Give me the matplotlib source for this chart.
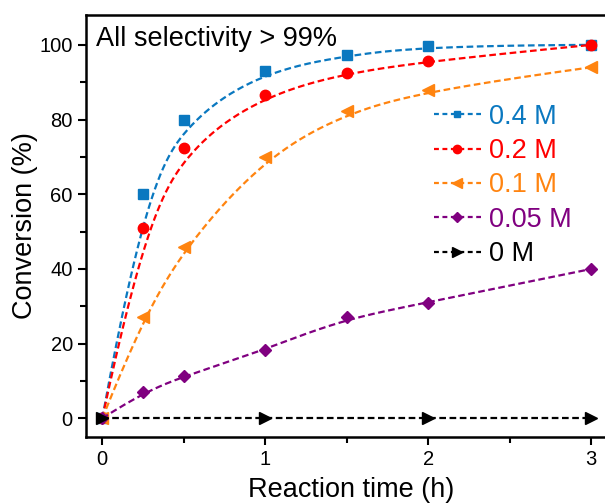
import numpy as np
import matplotlib
matplotlib.use("Agg")
import matplotlib.pyplot as plt
from matplotlib.ticker import MultipleLocator

plt.rcParams["font.family"] = ["Liberation Sans", "DejaVu Sans"]

# data: reaction time (h) vs conversion (%)
t_full = [0, 0.25, 0.5, 1, 1.5, 2, 3]
conv_04 = [0, 60, 80, 93, 97.2, 99.8, 100]
conv_02 = [0, 51, 72.5, 86.6, 92.6, 95.7, 100]
conv_01 = [0, 27.2, 46, 70, 82.2, 88, 94]
conv_005 = [0, 7, 11.3, 18.3, 27.2, 31, 40]
t_zero = [0, 1, 2, 3]
conv_0 = [0, 0, 0, 0]

labels = ["0.4 M", "0.2 M", "0.1 M", "0.05 M", "0 M"]
colors = ["#0a78c0", "#ff0000", "#ff8410", "#800080", "#000000"]
markers = ["s", "o", "<", "D", ">"]
msizes = [6.5, 7.5, 8.5, 6.5, 8.5]
leg_msizes = [5, 6, 7, 5.5, 7]


def bspline(x, y, k=3, n=200):
    """Clamped B-spline using the data points as control points (Origin-style)."""
    P = np.column_stack([x, y]).astype(float)
    m = len(P)
    k = min(k, m - 1)
    inner = np.linspace(0, 1, m - k + 1)[1:-1]
    knots = np.concatenate([np.zeros(k + 1), inner, np.ones(k + 1)])
    u = np.linspace(0, 1, n)
    u[-1] -= 1e-10
    # Cox-de Boor
    N = np.zeros((n, len(knots) - 1))
    for i in range(len(knots) - 1):
        N[:, i] = (u >= knots[i]) & (u < knots[i + 1])
    for d in range(1, k + 1):
        Nn = np.zeros((n, len(knots) - 1 - d))
        for i in range(len(knots) - 1 - d):
            a = knots[i + d] - knots[i]
            b = knots[i + d + 1] - knots[i + 1]
            left = (u - knots[i]) / a * N[:, i] if a > 0 else 0
            right = (knots[i + d + 1] - u) / b * N[:, i + 1] if b > 0 else 0
            Nn[:, i] = left + right
        N = Nn
    C = N @ P
    return C[:, 0], C[:, 1]


fig = plt.figure(figsize=(6.05, 5.04), dpi=100)
# right spine sits just outside the picture, as in the original
ax = fig.add_axes([86 / 605, 1 - 437 / 504, 530 / 605, 422 / 504])

series = [(t_full, conv_04), (t_full, conv_02), (t_full, conv_01),
          (t_full, conv_005), (t_zero, conv_0)]
dash = (0, (3, 1.6))
for (x, y), lab, c, m, ms, lms in zip(series, labels, colors, markers, msizes, leg_msizes):
    sx, sy = bspline(x, y)
    ax.plot(sx, sy, color=c, lw=1.6, ls=dash)
    ax.plot(x, y, ls="none", marker=m, color=c, ms=ms)
    # legend proxy (smaller markers, like the original)
    ax.plot([], [], color=c, lw=1.6, ls=(0, (2.2, 1.6)), marker=m, ms=lms, label=lab)

ax.set_xlim(-0.1, -0.1 + 530 / 163)
ax.set_ylim(-5, 108)
ax.xaxis.set_major_locator(MultipleLocator(1))
ax.xaxis.set_minor_locator(MultipleLocator(0.5))
ax.yaxis.set_major_locator(MultipleLocator(20))
ax.yaxis.set_minor_locator(MultipleLocator(10))
ax.tick_params(which="both", direction="out", width=1.5, labelsize=14.5)
ax.tick_params(which="major", length=6)
ax.tick_params(which="minor", length=4)
for s in ax.spines.values():
    s.set_linewidth(1.8)

ax.set_xlabel("Reaction time (h)", fontsize=19.5, labelpad=5.5)
ax.set_ylabel("Conversion (%)", fontsize=19.5, labelpad=1)
ax.text(0.018, 0.975, "All selectivity > 99%", transform=ax.transAxes,
        fontsize=19.5, ha="left", va="top")

leg = ax.legend(loc="upper left", bbox_to_anchor=(0.656, 0.79), frameon=False,
                fontsize=19.5, handlelength=1.75, handletextpad=0.3,
                labelspacing=0.31, borderpad=0, borderaxespad=0)
for txt, c in zip(leg.get_texts(), colors):
    txt.set_color(c)

fig.savefig("out.png", dpi=100)
